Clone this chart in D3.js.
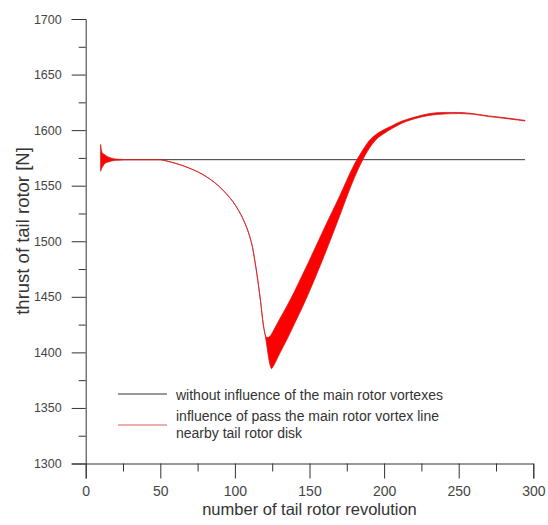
<!DOCTYPE html>
<html>
<head>
<meta charset="utf-8">
<script src="https://cdn.jsdelivr.net/npm/d3@7"></script>
<style>
  html, body { margin: 0; padding: 0; background: #fff; }
  svg { display: block; font-family: "Liberation Sans", Arial, sans-serif; }
</style>
</head>
<body>
<svg id="chart" width="548" height="525"></svg>
<script>
// Tail rotor thrust per revolution: steady reference vs. passage of the main rotor vortex line
const revolution = [10, 10.5, 11.5, 13, 15, 17.5, 20, 25, 30, 40, 50, 53, 60, 70, 81, 92, 101, 104, 106, 108, 110, 111.8, 113.3, 114.8, 117.1, 119.1, 120.5, 121.5, 122.5, 123.5, 124.6, 125, 130, 135, 140, 145, 150, 155, 160, 165, 170, 175, 180, 185, 190, 195, 200, 205, 210, 215, 220, 230, 240, 250, 260, 270, 280, 290, 294.4];
// lower and upper envelope of the oscillating thrust signal [N]
const thrustMin = [1563, 1565, 1567.5, 1570.3, 1571.3, 1572.3, 1572.8, 1573.2, 1573.4, 1573.4, 1573.4, 1572.6, 1570.2, 1565.5, 1558, 1546, 1531, 1524, 1518.5, 1512, 1504, 1494.5, 1483, 1470, 1447, 1424.5, 1414, 1405, 1396, 1389, 1385.3, 1386, 1399, 1412, 1426, 1440, 1455, 1471, 1487.5, 1504.5, 1522, 1540, 1557, 1571.5, 1583.5, 1592, 1597, 1601.2, 1604.9, 1607.9, 1610.1, 1613.2, 1614.5, 1614.9, 1614.2, 1612.2, 1610.7, 1609, 1608.2];
const thrustMax = [1587, 1582, 1579, 1577.7, 1575.8, 1574.8, 1574, 1573.6, 1573.4, 1573.4, 1573.4, 1572.6, 1570.2, 1565.5, 1558, 1546, 1531, 1524, 1518.5, 1512, 1504, 1494.5, 1483, 1470, 1447, 1424.5, 1415, 1413.5, 1413.5, 1414.5, 1416.5, 1417.5, 1430, 1442, 1455, 1469, 1483, 1497.5, 1512, 1526, 1540, 1555, 1569, 1580.5, 1590.5, 1596.5, 1600.5, 1603.8, 1607.1, 1609.5, 1611.5, 1614.8, 1615.9, 1615.9, 1614.8, 1612.8, 1611.3, 1609.6, 1608.8];

// steady thrust without the main rotor vortexes
const steadyRevolution = [10, 294.4];
const steadyThrust = [1573.4, 1573.4];

const xTicks = [0, 50, 100, 150, 200, 250, 300];
const xMinorTicks = [25, 75, 125, 175, 225, 275];
const yTicks = [1300, 1350, 1400, 1450, 1500, 1550, 1600, 1650, 1700];
const yMinorTicks = [1325, 1375, 1425, 1475, 1525, 1575, 1625, 1675];

const legendLabels = [
  ["without influence of the main rotor vortexes"],
  ["influence of pass the main rotor vortex line", "nearby tail rotor disk"]
];
const xTitle = "number of tail rotor revolution";
const yTitle = "thrust of tail rotor [N]";

const svg = d3.select("#chart");
const axisColor = "#333";
const textColor = "#444";

const x = d3.scaleLinear().domain([0, 300]).range([85.7, 533.3]);
const y = d3.scaleLinear().domain([1300, 1700]).range([463.5, 19]);

// axes
const gx = svg.append("g").attr("transform", `translate(0,${y(1300)})`);
gx.call(d3.axisBottom(x).tickValues(xTicks).tickSize(15).tickPadding(8).tickFormat(d3.format("d")));
gx.append("g").call(d3.axisBottom(x).tickValues(xMinorTicks).tickSize(8).tickFormat(""))
  .select(".domain").remove();

const gy = svg.append("g").attr("transform", `translate(${x(0)},0)`);
gy.call(d3.axisLeft(y).tickValues(yTicks).tickSize(14).tickPadding(10).tickFormat(d3.format("d")));
gy.append("g").call(d3.axisLeft(y).tickValues(yMinorTicks).tickSize(7).tickFormat(""))
  .select(".domain").remove();

svg.selectAll(".domain").attr("stroke", axisColor).attr("stroke-width", 1);
svg.selectAll(".tick line").attr("stroke", axisColor).attr("stroke-width", 1);
gx.selectAll(".tick text").attr("fill", textColor).style("font-size", "14px");
gy.selectAll(".tick text").attr("fill", textColor).style("font-size", "12.5px");

// axis titles
svg.append("text")
  .attr("x", x(150)).attr("y", 515)
  .attr("text-anchor", "middle")
  .attr("fill", "#333")
  .style("font-size", "16.5px")
  .text(xTitle);

svg.append("text")
  .attr("transform", `translate(29,${231}) rotate(-90)`)
  .attr("text-anchor", "middle")
  .attr("fill", "#333")
  .style("font-size", "18.5px")
  .text(yTitle);

// steady reference line
svg.append("path")
  .datum(steadyRevolution.map((r, i) => [r, steadyThrust[i]]))
  .attr("fill", "none")
  .attr("stroke", "#333")
  .attr("stroke-width", 1)
  .attr("d", d3.line().x(d => x(d[0])).y(d => y(d[1])));

// oscillating thrust band
const bandData = revolution.map((r, i) => ({ r, lo: thrustMin[i], hi: thrustMax[i] }));
svg.append("path")
  .datum(bandData)
  .attr("fill", "#ff0000")
  .attr("stroke", "#d42020")
  .attr("stroke-width", 0.8)
  .attr("d", d3.area()
    .curve(d3.curveMonotoneX)
    .x(d => x(d.r))
    .y0(d => y(d.lo))
    .y1(d => y(d.hi)));

// legend
const legendColors = ["#333", "#e05a5a"];
const legendLineY = [394, 425];
const legendTextY = [[400], [420.5, 438]];
legendLabels.forEach((lines, i) => {
  svg.append("line")
    .attr("x1", 118).attr("x2", 167)
    .attr("y1", legendLineY[i]).attr("y2", legendLineY[i])
    .attr("stroke", legendColors[i]).attr("stroke-width", 1);
  lines.forEach((t, j) => {
    svg.append("text")
      .attr("x", 176).attr("y", legendTextY[i][j])
      .attr("fill", "#333")
      .style("font-size", "14px")
      .text(t);
  });
});
</script>
</body>
</html>
